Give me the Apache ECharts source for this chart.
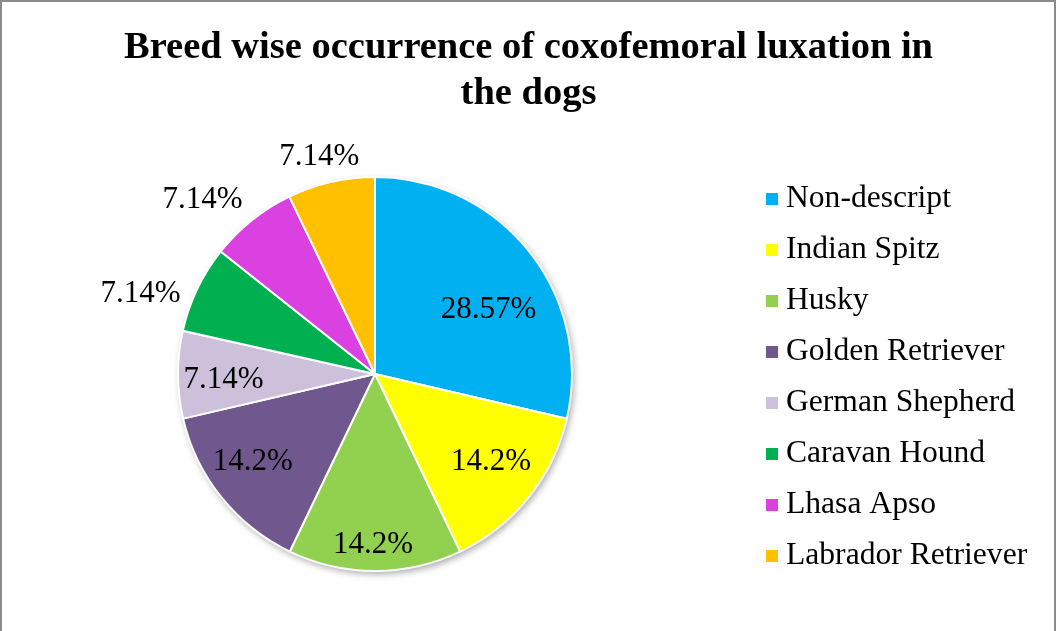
<!DOCTYPE html>
<html>
<head>
<meta charset="utf-8">
<title>Breed wise occurrence of coxofemoral luxation in the dogs</title>
<script src="https://cdn.jsdelivr.net/npm/echarts@6/dist/echarts.min.js"></script>
<style>
  html, body { margin: 0; padding: 0; background: #fff; }
  #chart { width: 1057px; height: 631px; }
</style>
</head>
<body>
<div id="chart"></div>
<script>
// Breeds and their share of coxofemoral luxation cases (%)
const breeds = ['Non-descript', 'Indian Spitz', 'Husky', 'Golden Retriever',
                'German Shepherd', 'Caravan Hound', 'Lhasa Apso', 'Labrador Retriever'];
const shares = [28.57, 14.2, 14.2, 14.2, 7.14, 7.14, 7.14, 7.14];
const sliceColors = ['#00B0F0', '#FFFF00', '#92D050', '#70588E',
                     '#CCC0DA', '#00B050', '#DA41E0', '#FFC000'];

// Label nudges (px) from the default in-slice position
const labelNudge = [[34, -1], [37, 24], [-2, 69], [-43, 24],
                    [-50, 5], [-143, -36], [-109, -95], [-33, -118]];

const FONT = '"Liberation Serif", "Times New Roman", serif';
const CENTER = [375, 374];
const RADIUS = 197;

const chart = echarts.init(document.getElementById('chart'), null, { renderer: 'canvas' });

chart.setOption({
  animation: false,
  backgroundColor: '#fff',
  graphic: [{
    type: 'rect',
    shape: { x: 1, y: 1, width: 1054, height: 700 },
    style: { fill: 'none', stroke: '#8a8a8a', lineWidth: 2 },
    silent: true
  }],
  title: {
    text: 'Breed wise occurrence of coxofemoral luxation in\nthe dogs',
    left: 'center',
    top: 20,
    textStyle: {
      fontFamily: FONT,
      fontWeight: 'bold',
      fontSize: 38.5,
      lineHeight: 46,
      color: '#000'
    }
  },
  legend: {
    orient: 'vertical',
    left: 764,
    top: 182,
    padding: 0,
    icon: 'rect',
    itemWidth: 14,
    itemHeight: 14,
    itemGap: 17,
    selectedMode: false,
    data: breeds,
    textStyle: {
      fontFamily: FONT,
      fontSize: 31.6,
      lineHeight: 34,
      color: '#000',
      padding: [0, 0, 0, 2]
    }
  },
  series: [
    {
      // soft drop shadow under the pie
      type: 'pie',
      silent: true,
      center: CENTER,
      radius: RADIUS,
      startAngle: 90,
      clockwise: true,
      label: { show: false },
      labelLine: { show: false },
      legendHoverLink: false,
      data: shares.map((v, i) => ({ value: v, name: '_' + i })),
      itemStyle: {
        color: '#fff',
        shadowBlur: 7,
        shadowColor: 'rgba(0,0,0,0.35)',
        shadowOffsetX: 2,
        shadowOffsetY: 3
      },
      z: 1
    },
    {
      type: 'pie',
      center: CENTER,
      radius: RADIUS,
      startAngle: 90,
      clockwise: true,
      avoidLabelOverlap: false,
      labelLine: { show: false },
      itemStyle: { borderColor: '#fff', borderWidth: 2 },
      data: breeds.map((name, i) => ({
        name: name,
        value: shares[i],
        itemStyle: { color: sliceColors[i] },
        label: {
          show: true,
          position: 'inside',
          offset: labelNudge[i],
          formatter: shares[i] + '%',
          fontFamily: FONT,
          fontSize: 31,
          color: '#000'
        }
      })),
      z: 2
    }
  ]
});
</script>
</body>
</html>
